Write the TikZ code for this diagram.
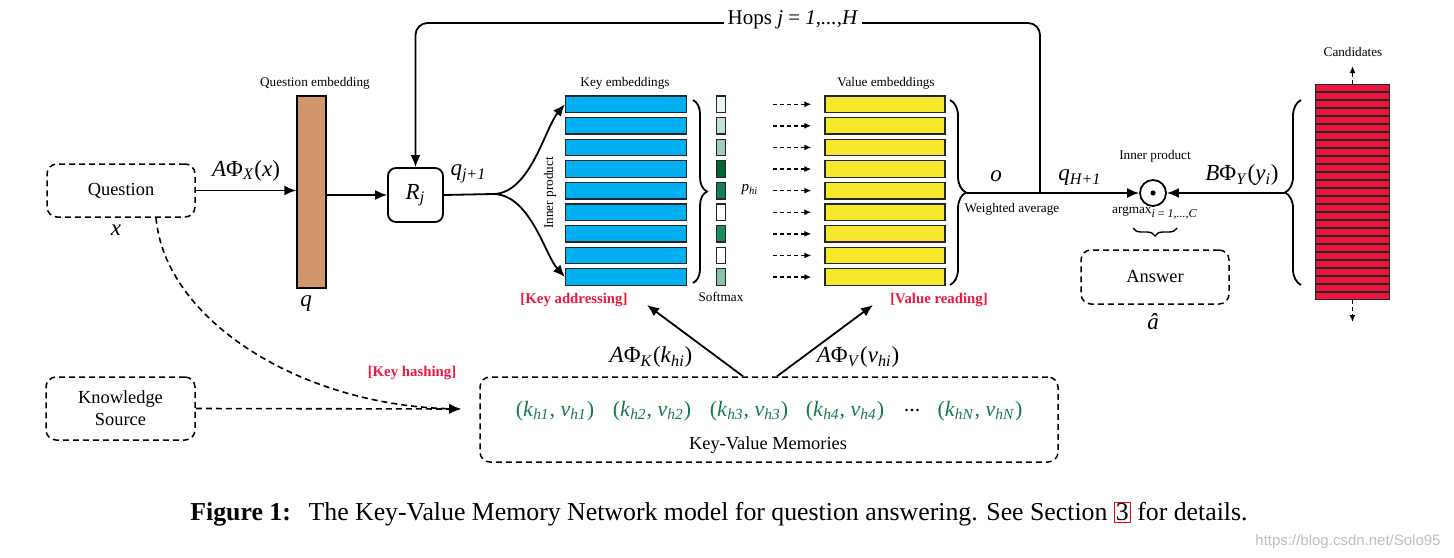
\documentclass[tikz,border=0pt]{standalone}
\usepackage{fontspec}
\setmainfont{Liberation Serif}
\setsansfont{Liberation Sans}
\usetikzlibrary{arrows.meta,positioning,decorations.pathreplacing}
\definecolor{qbrown}{RGB}{211,150,108}
\definecolor{keyblue}{RGB}{0,176,240}
\definecolor{valyellow}{RGB}{246,232,44}
\definecolor{candred}{RGB}{236,20,58}
\definecolor{labelred}{RGB}{238,24,62}
\definecolor{pairgreen}{RGB}{22,122,74}
\definecolor{sm1}{RGB}{234,245,239}
\definecolor{sm2}{RGB}{196,224,210}
\definecolor{sm3}{RGB}{158,204,184}
\definecolor{sm4}{RGB}{0,98,54}
\definecolor{sm5}{RGB}{18,128,84}
\definecolor{sm7}{RGB}{28,140,94}
\definecolor{sm9}{RGB}{138,194,168}
\newcommand{\lowit}[1]{\textsubscript{\textit{#1}}}

\begin{document}
\begin{tikzpicture}[x=0.5pt, y=-0.5pt,
  dbox/.style={draw, dash pattern=on 3pt off 2pt, rounded corners=5pt, line width=0.75pt, align=center, inner sep=0pt, font=\fontsize{9.2}{11}\selectfont},
  small/.style={font=\fontsize{6.6}{8}\selectfont},
  mlbl/.style={font=\fontsize{11.5}{13}\selectfont},
  redlbl/.style={font=\fontsize{7.4}{9}\selectfont\bfseries, text=labelred},
  pair/.style={font=\fontsize{11}{13}\selectfont, text=pairgreen},
  rowbox/.style={draw=black!85, line width=0.65pt, inner sep=0pt, minimum height=8.25pt},
  keyrow/.style={rowbox, fill=keyblue, minimum width=60.5pt},
  valrow/.style={rowbox, fill=valyellow, minimum width=60pt},
  smbox/.style={rowbox, minimum width=4.4pt},
  candrow/.style={draw=black!85, line width=0.5pt, fill=candred, inner sep=0pt, minimum width=37pt, minimum height=3.3pt},
  arr/.style={-{Latex[length=6pt, width=5pt]}, line width=0.9pt},
  darr/.style={-{Latex[length=3.5pt, width=3pt]}, dash pattern=on 2pt off 1.5pt, line width=0.75pt},
  harr/.style={-{Latex[length=6pt, width=5pt]}, dash pattern=on 3pt off 2pt, line width=0.8pt},
  brc/.style={decorate, decoration={brace, amplitude=#1}, line width=0.9pt},
  brc/.default=6pt
]
\useasboundingbox (0,0) rectangle (1454,557);

\node[dbox, minimum width=74pt, minimum height=26.5pt] (question) at (121,190.5) {Question};
\node[mlbl] (xlbl) at (116,230) {\textit{x}};
\node[draw, line width=0.75pt, fill=qbrown, minimum width=14.5pt, minimum height=96pt, inner sep=0pt] (qbar) at (311.5,192) {};
\node[small] (qemb) at (315,83) {Question embedding};
\node[mlbl] (qlbl) at (306,304) {\textit{q}};
\node[draw, line width=0.9pt, rounded corners=4pt, minimum width=27.5pt, minimum height=27pt, inner sep=0pt, mlbl] (rj) at (415.5,195) {\textit{R}\lowit{j}};

\draw[arr] (question.east) -- (question.east -| qbar.west) node[midway, above=1pt, mlbl] {\textit{A}Φ\lowit{X}(\textit{x})};
\draw[arr] (rj -| qbar.east) -- (rj.west);

\foreach \i in {1,...,9}
  \node[keyrow] (k\i) at (626,{82.65+21.6*\i}) {};
\foreach \i/\col in {1/sm1,2/sm2,3/sm3,4/sm4,5/sm5,6/white,7/sm7,8/white,9/sm9}
  \node[smbox, fill=\col] (s\i) at (721,{82.65+21.6*\i}) {};
\foreach \i in {1,...,9}
  \node[valrow] (v\i) at (885,{82.65+21.6*\i}) {};
\foreach \i in {1,...,9}
  \draw[darr, shorten <=23.5pt, shorten >=6.5pt] (s\i) -- (v\i);

\node[small] (kemb) at (625,83) {Key embeddings};
\node[small] (vemb) at (886,83) {Value embeddings};
\node[small, rotate=90] (inner1) at (550,193) {Inner product};
\node[font=\fontsize{7.5}{9}\selectfont] (phi) at (750,190) {\textit{p}\lowit{hi}};
\node[small] (softmax) at (721,297) {Softmax};
\node[redlbl] (keyaddr) at (574,300) {[Key addressing]};
\node[redlbl] (valread) at (939,300) {[Value reading]};

\coordinate (split) at (493,194);
\draw[line width=0.9pt] (rj.east) -- (split) node[midway, above=2pt, mlbl] {\textit{q}\lowit{j+1}};
\draw[arr] (split) .. controls (530,194) and (545,128) .. (k1.west);
\draw[arr] (split) .. controls (530,194) and (545,255) .. (k9.west);

\draw[brc=7pt] (693,100) -- (693,283);
\draw[brc=8pt] (950,100) -- (950,285);
\coordinate (wtip) at (966,193);

\node[circle, draw, line width=0.9pt, minimum size=13pt, inner sep=0pt] (dot) at (1153,193) {};
\fill (dot.center) circle (1.3pt);
\node[small] (inner2) at (1155,156) {Inner product};
\node[small] (argmax) at (1155,213) {argmax\textsubscript{\fontsize{6}{7}\selectfont\textit{i} = \textit{1,...,C}}};
\draw[brc=4pt, line width=0.7pt] (1177,228) -- (1133,228);

\coordinate (hopR) at (1040,193);
\coordinate (hopTop) at (1040,23);
\draw[arr] (wtip) -- (dot.west);
\draw[arr, rounded corners=6pt] (hopR) -- (hopTop) -| (rj.north);
\node[fill=white, inner sep=2pt, font=\fontsize{10.5}{12}\selectfont] (hops) at (793,20) {Hops \textit{j} = \textit{1,...,H}};
\node[mlbl] (olbl) at (996,176) {\textit{o}};
\node[small] (wavg) at (1012,209) {Weighted average};
\node[mlbl] (qh) at (1080,178) {\textit{q}\lowit{H+1}};

\foreach \i in {1,...,27}
  \node[candrow] (c\i) at (1352.5,{80.25+8*\i}) {};
\node[small] (cands) at (1353,52) {Candidates};
\coordinate (candUp) at (1352.5,66);
\coordinate (candDn) at (1352.5,322);
\draw[darr] (c1.north) -- (candUp);
\draw[darr] (c27.south) -- (candDn);
\draw[brc=8pt] (1301,285) -- (1301,100);
\coordinate (ctip) at (1285,193);
\draw[arr] (ctip) -- (dot.east);
\node[mlbl] (bphi) at (1242,175) {\textit{B}Φ\lowit{Y}(\textit{y}\lowit{i})};

\node[dbox, minimum width=74pt, minimum height=27pt] (answer) at (1155,277) {Answer};
\node[mlbl] (ahat) at (1153,322) {\textit{â}};

\node[dbox, minimum width=74.5pt, minimum height=31.5pt] (ks) at (120.5,408.5) {Knowledge\\Source};
\node[dbox, minimum width=289pt, minimum height=42.5pt] (mem) at (769,419.5) {};
\foreach \n/\cx in {1/555,2/652,3/749,4/845}
  \node[pair] (p\n) at (\cx,411) {(\textit{k}\lowit{h\n}, \textit{v}\lowit{h\n})};
\node[font=\fontsize{11}{13}\selectfont] (pdots) at (912,411) {...};
\node[pair] (pN) at (980,411) {(\textit{k}\lowit{hN}, \textit{v}\lowit{hN})};
\node[font=\fontsize{9.2}{11}\selectfont] (kvm) at (768,445) {Key-Value Memories};

\coordinate (hashTip) at (461,409);
\draw[harr] (ks.east) -- (hashTip);
\draw[harr] ([xshift=17.5pt]question.south) .. controls (165,320) and (300,405) .. (hashTip);
\node[redlbl] (hash) at (412,373) {[Key hashing]};

\coordinate (kaTip) at (647,305);
\coordinate (vrTip) at (873,305);
\draw[arr] ([xshift=-13pt]mem.north) -- (kaTip);
\draw[arr] ([xshift=4pt]mem.north) -- (vrTip);
\node[mlbl] (aphik) at (651,357) {\textit{A}Φ\lowit{K}(\textit{k}\lowit{hi})};
\node[mlbl] (aphiv) at (858,357) {\textit{A}Φ\lowit{V}(\textit{v}\lowit{hi})};

\node[font=\fontsize{12.9}{15}\selectfont] (caption) at (719,514) {\textbf{Figure 1:}\hspace{0.35em} The Key-Value Memory Network model for question answering. See Section {\color{red}\fboxsep=0.5pt\fboxrule=0.5pt\fbox{\color{black}3}} for details.};
\node[font=\sffamily\fontsize{7.5}{9}\selectfont, text=black!25] (wmark) at (1348,542) {https://blog.csdn.net/Solo95};
\end{tikzpicture}
\end{document}
